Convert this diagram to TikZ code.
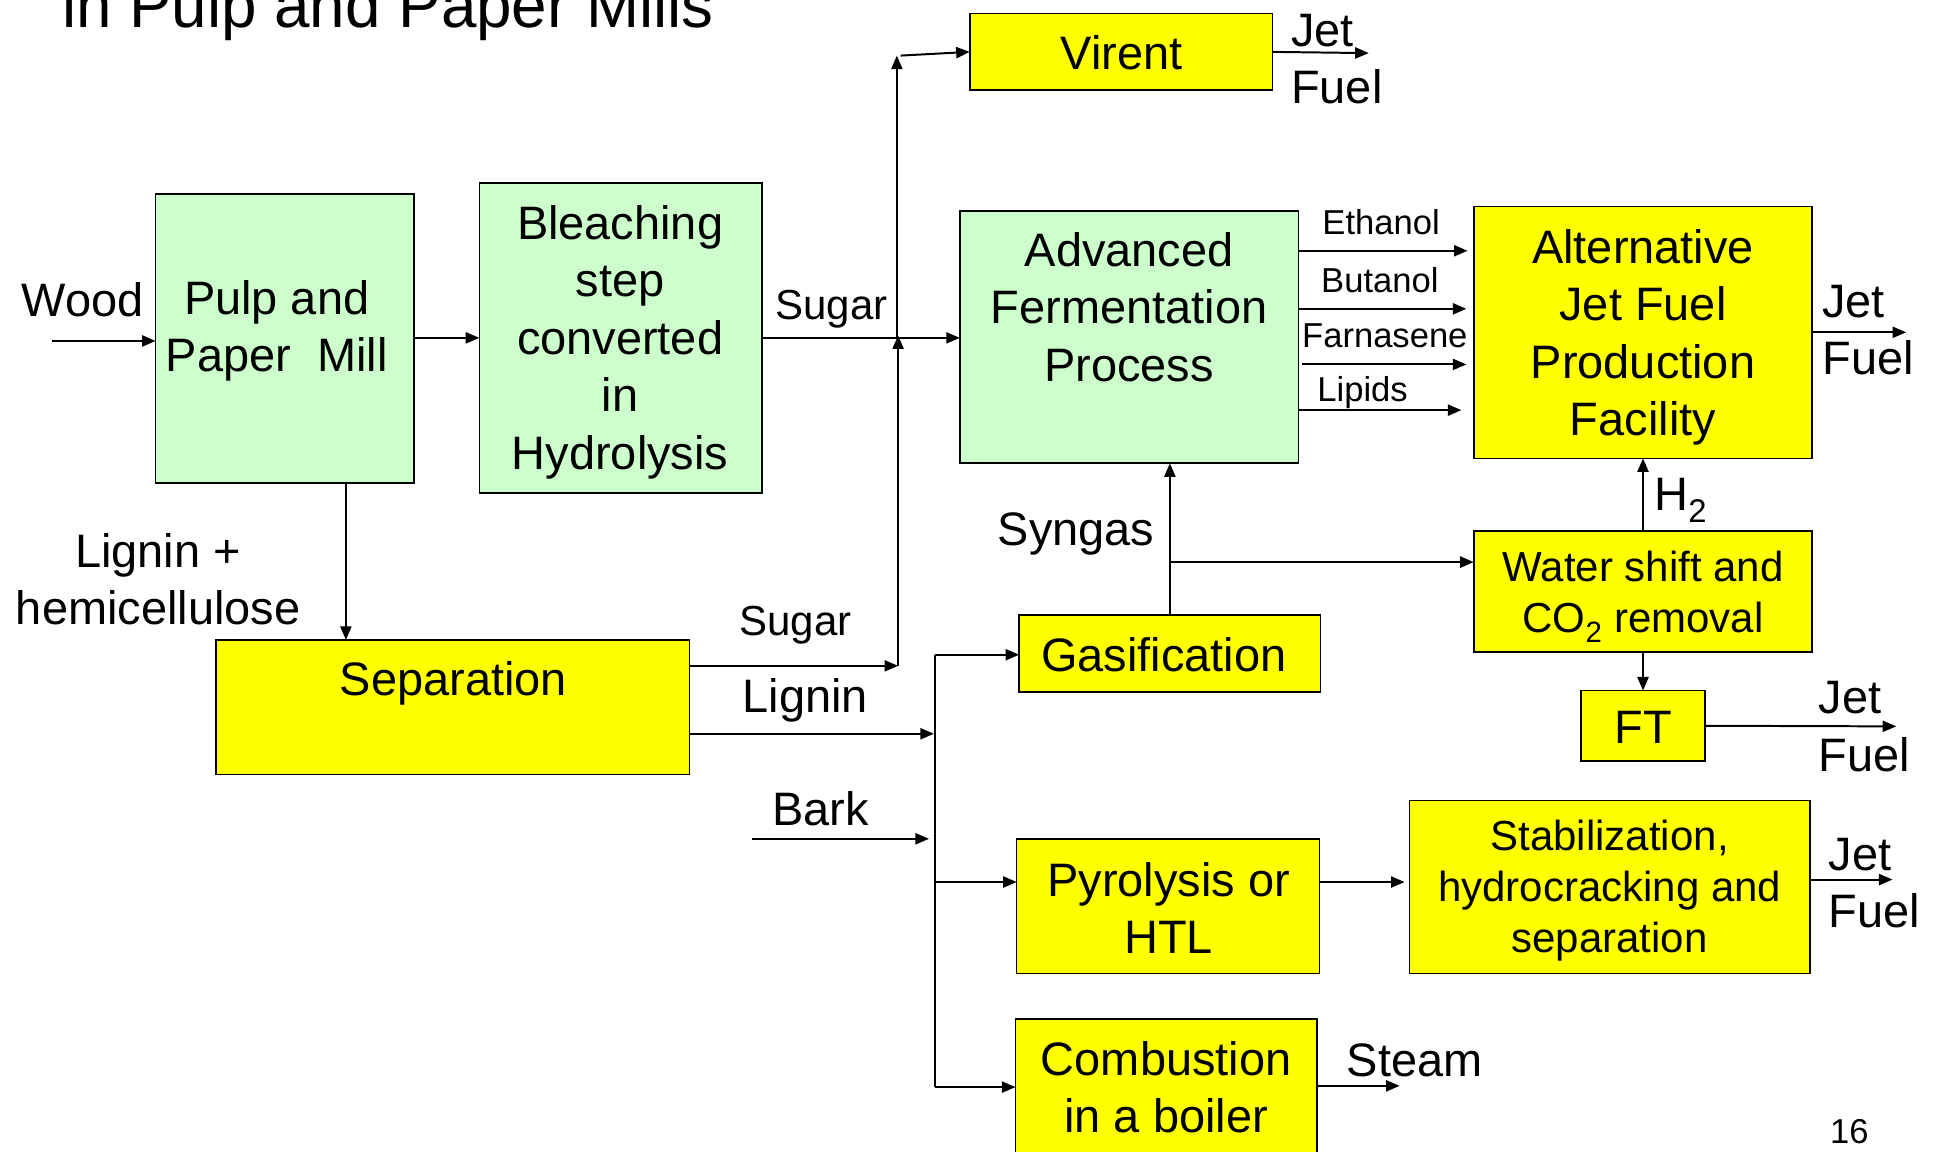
\documentclass[tikz,border=0pt]{standalone}
\usepackage{fontspec}
\setmainfont{Liberation Sans}
\usetikzlibrary{arrows.meta}
\definecolor{gfill}{HTML}{CCFFCC}
\definecolor{yfill}{HTML}{FFFF00}
\newcommand\fbig{\fontsize{38}{46.5}\selectfont}
\newcommand\fmid{\fontsize{34}{41.5}\selectfont}
\newcommand\fsug{\fontsize{34}{41.5}\selectfont}
\newcommand\fsmall{\fontsize{28}{34}\selectfont}
\newcommand\ftitle{\fontsize{51.6}{60}\selectfont}
\begin{document}
\begin{tikzpicture}[x=1pt,y=-1pt,
  box/.style={draw, line width=1.3pt, inner sep=0pt, outer sep=0pt},
  gbox/.style={box, fill=gfill},
  ybox/.style={box, fill=yfill},
  arr/.style={line width=1.6pt, -{Triangle[length=11pt,width=9pt]}},
  ln/.style={line width=1.6pt},
  txt/.style={inner sep=0pt, align=center, font=\fbig},
  lbl/.style={inner sep=0pt, align=left, anchor=west, font=\fbig},
]
\useasboundingbox (0,0) rectangle (1568,932);
\fill[white] (0,0) rectangle (1568,932);

% title and page number
\node[anchor=base west, inner sep=0pt, font=\ftitle] (title) at (50,22) {in Pulp and Paper Mills};
\node[inner sep=0pt, font=\fsmall] (pagenum) at (1497,916) {16};

% boxes
\node[gbox, minimum width=209pt, minimum height=234pt] (pulp) at (230.5,274) {};
\node[gbox, minimum width=229pt, minimum height=251pt] (bleach) at (502.5,273.5) {};
\node[gbox, minimum width=274pt, minimum height=204pt] (adv) at (914,273) {};
\node[ybox, minimum width=274pt, minimum height=204pt] (alt) at (1330,269) {};
\node[ybox, minimum width=245pt, minimum height=62pt] (virent) at (907.5,42) {};
\node[ybox, minimum width=383pt, minimum height=109pt] (sep) at (366.5,572.5) {};
\node[ybox, minimum width=244pt, minimum height=62pt] (gas) at (947,529) {};
\node[ybox, minimum width=274pt, minimum height=98pt] (water) at (1330,479) {};
\node[ybox, minimum width=100pt, minimum height=57pt] (ft) at (1330,587.5) {};
\node[ybox, minimum width=245pt, minimum height=109pt] (pyro) at (945.5,733.5) {};
\node[ybox, minimum width=324pt, minimum height=140pt] (stab) at (1303,718) {};
\node[ybox, minimum width=244pt, minimum height=130pt] (comb) at (944,890) {};

% box texts
\node[txt] (pulpt) at (224,268) {Pulp and\\Paper\ \ Mill};
\node[txt] (bleacht) at (502,277) {Bleaching\\step\\converted\\in\\Hydrolysis};
\node[txt] (advt) at (914,248.5) {Advanced\\Fermentation\\Process};
\node[txt] (altt) at (1330,273) {Alternative\\Jet Fuel\\Production\\Facility};
\node[txt] (virentt) at (908,43) {Virent};
\node[txt] (sept) at (367,553) {Separation};
\node[txt] (gast) at (942,530) {Gasification};
\node[txt, font=\fmid] (watert) at (1330,483) {Water shift and\\CO\textsubscript{2} removal};
\node[txt] (ftt) at (1330,589) {FT};
\node[txt] (pyrot) at (946,735) {Pyrolysis or\\HTL};
\node[txt, font=\fmid] (stabt) at (1303,721) {Stabilization,\\hydrocracking and\\separation};
\node[txt] (combt) at (944,880) {Combustion\\in a boiler};

% labels
\node[txt] (woodl) at (67,243) {Wood};
\node[txt, font=\fsug] (sugar1) at (673,250) {Sugar};
\node[txt, font=\fsug] (sugar2) at (644,506) {Sugar};
\node[txt] (ligl) at (128,469) {Lignin +\\hemicellulose};
\node[txt] (lignin) at (652,567) {Lignin};
\node[txt] (bark) at (664,655) {Bark};
\node[txt] (syngas) at (871,432) {Syngas};
\node[lbl] (h2) at (1339,405) {H\textsubscript{2}};
\node[lbl] (steam) at (1090,858) {Steam};
\node[txt, font=\fsmall] (ethl) at (1118,180) {Ethanol};
\node[txt, font=\fsmall] (butl) at (1117,227) {Butanol};
\node[txt, font=\fsmall] (farl) at (1121,272) {Farnasene};
\node[txt, font=\fsmall] (lipl) at (1103,318) {Lipids};
\node[lbl] (jf1) at (1045,48) {Jet\\Fuel};
\node[lbl] (jf2) at (1475,267) {Jet\\Fuel};
\node[lbl] (jf3) at (1472,588) {Jet\\Fuel};
\node[lbl] (jf4) at (1480,715) {Jet\\Fuel};

% coordinates
\coordinate (woodin) at (42,276);
\coordinate (vj) at (726,273.5);
\coordinate (vtop) at (726,45);
\coordinate (vout) at (1108,43);
\coordinate (sj) at (727,539);
\coordinate (lj) at (756,594);
\coordinate (barkin) at (609,679);
\coordinate (bj) at (752,679);
\coordinate (dtop) at (757,530);
\coordinate (dmid) at (757,714);
\coordinate (dbot) at (757,880);
\coordinate (gj) at (947,455);
\coordinate (e1) at (1188,203);
\coordinate (e2) at (1187,250);
\coordinate (e3) at (1187,295);
\coordinate (e4) at (1183,332);
\coordinate (altout) at (1543,269);
\coordinate (ftout) at (1535,588);
\coordinate (stout) at (1532,712);
\coordinate (steamout) at (1133,879);
\coordinate (px) at (280,450);

% connectors
\draw[arr] (woodin) -- (woodin -| pulp.west);
\draw[arr] (pulp.east |- bleach.east) -- (bleach.west);
\draw[arr] (bleach.east) -- (bleach.east -| adv.west);
\draw[arr] (vj) -- (vtop);
\draw[arr] ([xshift=3pt]vtop) -- (virent.west);
\draw[arr] (virent.east) -- (vout);
\draw[arr] (px |- pulp.south) -- (px |- sep.north);
\draw[arr] (sep.east |- sj) -- (sj);
\draw[arr] (sj) -- ([yshift=2pt]sj |- bleach.east);
\draw[arr] (sep.east |- lj) -- (lj);
\draw[arr] (barkin) -- (bj);
\draw[ln] (dtop) -- (dbot);
\draw[arr] (dtop) -- (dtop -| gas.west);
\draw[arr] (dmid) -- (dmid -| pyro.west);
\draw[arr] (dbot) -- (dbot -| comb.west);
\draw[arr] (gas.north) -- (gas.north |- adv.south);
\draw[arr] (gj) -- (gj -| water.west);
\draw[arr] (water.north) -- (alt.south);
\draw[arr] (water.south) -- (ft.north);
\draw[arr] (ft.east) -- (ftout);
\draw[arr] (e1 -| adv.east) -- (e1);
\draw[arr] (e2 -| adv.east) -- (e2);
\draw[arr] ([xshift=3pt]e3 -| adv.east) -- (e3);
\draw[arr] (e4 -| adv.east) -- (e4);
\draw[arr] (alt.east) -- (altout);
\draw[arr] (pyro.east |- dmid) -- ([xshift=-4pt]dmid -| stab.west);
\draw[arr] (stab.east |- stout) -- (stout);
\draw[arr] (comb.east |- steamout) -- (steamout);
\end{tikzpicture}
\end{document}
